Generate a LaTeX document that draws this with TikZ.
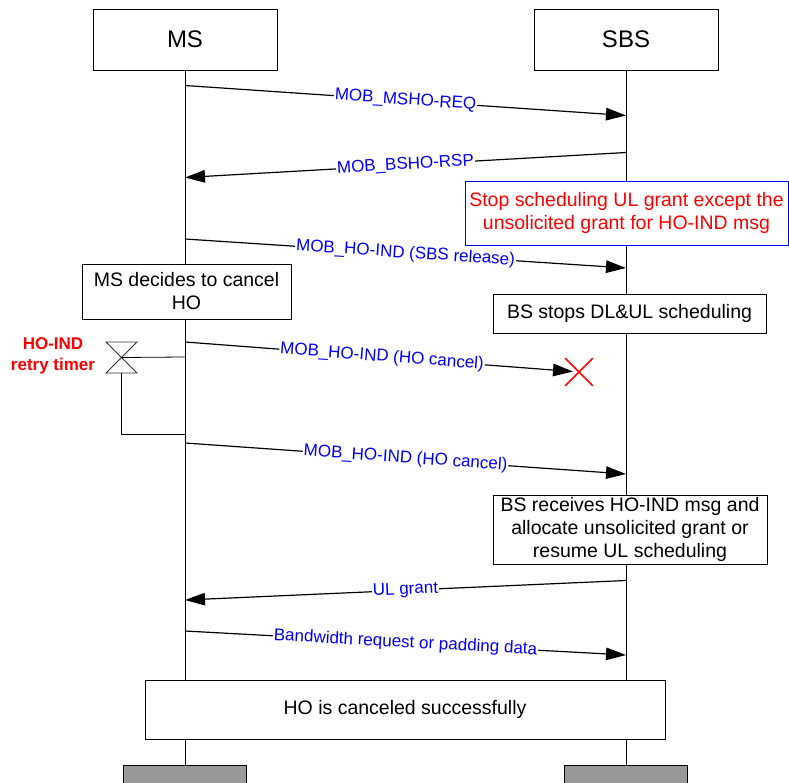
\documentclass[tikz,border=0pt]{standalone}
\usepackage{fontspec}
\setmainfont{Liberation Sans}
\usetikzlibrary{arrows.meta,shapes.misc}
\definecolor{msgblue}{HTML}{0000FF}
\definecolor{stopred}{HTML}{FF0000}
\definecolor{endgray}{HTML}{999999}

\tikzset{
  entity/.style={draw, fill=white, line width=0.8pt, inner sep=0pt, minimum width=184pt, minimum height=61pt, font=\fontsize{24}{28}\selectfont},
  entityend/.style={draw, fill=endgray, line width=0.8pt, inner sep=0pt, minimum width=123pt, minimum height=30pt},
  action/.style={draw, fill=white, line width=0.8pt, inner sep=0pt, align=center, font=\fontsize{19.5}{23}\selectfont},
  msg/.style={line width=1.2pt, -{Triangle[length=20pt,width=12.5pt]}},
  msglabel/.style={sloped, midway, fill=white, inner sep=1pt, text=msgblue, font=\fontsize{17}{20}\selectfont}
}

\begin{document}
\begin{tikzpicture}[x=1pt,y=-1pt]
				\useasboundingbox (0,0) rectangle (789,783);
				\node[entity] (ms) at (185,39.5) {MS};
				\node[entity] (sbs) at (626,39.5) {SBS};
				\node[entityend] (msend) at (185,780) {};
				\node[entityend] (sbsend) at (626,780) {};
				\draw[line width=0.9pt] (ms.south) -- (msend.north);
				\draw[line width=0.9pt] (sbs.south) -- (sbsend.north);

				\node[action, draw=msgblue, text=stopred, minimum width=323pt, minimum height=64pt] (stopul) at (626.5,213) {Stop scheduling UL grant except the\\unsolicited grant for HO-IND msg};
				\node[action, minimum width=209pt, minimum height=55pt] (decide) at (186.5,291.5) {MS decides to cancel\\HO};
				\node[action, minimum width=273pt, minimum height=39pt] (bsstop) at (629.5,313.5) {BS stops DL\&UL scheduling};
				\node[action, minimum width=274pt, minimum height=69pt] (bsrecv) at (630,529.5) {BS receives HO-IND msg and\\allocate unsolicited grant or\\resume UL scheduling};
				\node[action, minimum width=520pt, minimum height=59pt] (cancelok) at (405,709.5) {HO is canceled successfully};

				% message end points on the lifelines
				\coordinate (ms1) at (185,85.5);   \coordinate (sbs1) at (626,115.5);
				\coordinate (sbs2) at (626,152.5); \coordinate (ms2) at (185,177.5);
				\coordinate (ms3) at (185,239);    \coordinate (sbs3) at (626,268);
				\coordinate (ms4) at (185,342);
				\coordinate (ms5) at (185,443);    \coordinate (sbs5) at (626,474);
				\coordinate (sbs6) at (626,580.5); \coordinate (ms6) at (185,600);
				\coordinate (ms7) at (185,631);    \coordinate (sbs7) at (626,655);
				\coordinate (mstimer) at (185,357);
				\coordinate (msexpire) at (185,434);

				\draw[msg] (ms1) -- node[msglabel] {MOB\_MSHO-REQ} (sbs1);
				\draw[msg] (sbs2) -- node[msglabel] {MOB\_BSHO-RSP} (ms2);
				\draw[msg] (ms3) -- node[msglabel] {MOB\_HO-IND (SBS release)} (sbs3);
				\node[cross out, draw=stopred, line width=1.6pt, minimum size=26pt, inner sep=0pt] (lost) at (579,372) {};
				\draw[msg, shorten >=6pt] (ms4) -- node[msglabel] {MOB\_HO-IND (HO cancel)} (lost.center);
				\draw[msg] (ms5) -- node[msglabel] {MOB\_HO-IND (HO cancel)} (sbs5);
				\draw[msg] (sbs6) -- node[msglabel] {UL grant} (ms6);
				\draw[msg] (ms7) -- node[msglabel] {Bandwidth request or padding data} (sbs7);

				% retry timer
				\coordinate (timer) at (121.5,357.5);
				\coordinate (timerbot) at (121.5,373);
				\draw[line width=0.9pt, black!80] (106,342) -- (137,342) -- (106,373) -- (137,373) -- cycle;
				\draw[line width=0.8pt] (timer) -- (mstimer);
				\draw[line width=0.8pt] (timerbot) |- (msexpire);
				\node[align=center, text=stopred, font=\fontsize{17}{21}\selectfont\bfseries] (timerlabel) at (53,356) {HO-IND\\retry timer};
		\end{tikzpicture}
\end{document}
